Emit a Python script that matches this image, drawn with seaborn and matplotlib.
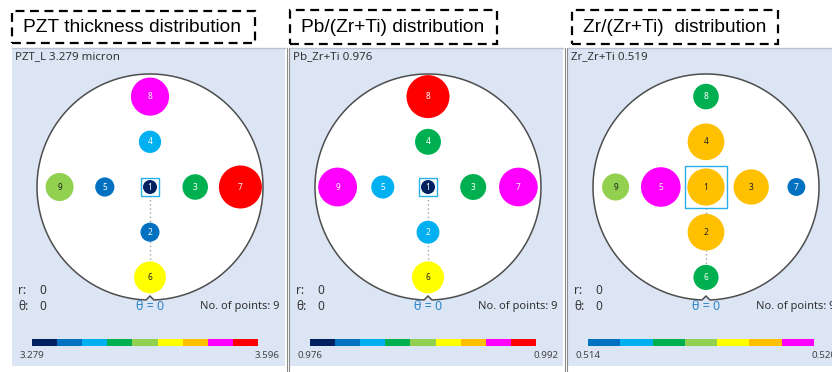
import numpy as np
import pandas as pd
import matplotlib
matplotlib.use('Agg')
import matplotlib.pyplot as plt
import matplotlib as mpl
import seaborn as sns
from matplotlib.colors import ListedColormap, Normalize
from matplotlib.patches import Rectangle, Polygon
from matplotlib.lines import Line2D

sns.set_theme(style='white')
plt.rcParams['font.family'] = ['Noto Sans', 'DejaVu Sans']

# measurement sites, mm from wafer centre (theta = 0 at the notch)
site_no = [1, 2, 3, 4, 5, 6, 7, 8, 9]
site_x = [0, 0, 40, 0, -40, 0, 80, 0, -80]
site_y = [0, -40, 0, 40, 0, -80, 0, 80, 0]

# measured values per site
thickness = [3.279, 3.334, 3.405, 3.370, 3.336, 3.474, 3.596, 3.543, 3.432]
pb_ratio = [0.976, 0.9809, 0.9826, 0.9826, 0.9810, 0.9859, 0.9896, 0.9920, 0.9897]
zr_ratio = [0.5188, 0.5187, 0.5184, 0.5187, 0.5193, 0.5163, 0.5148, 0.5164, 0.5167]

titles = ['PZT thickness distribution', 'Pb/(Zr+Ti) distribution', 'Zr/(Zr+Ti)  distribution']
headers = ['PZT_L {:.3f} micron', 'Pb_Zr+Ti {:.3f}', 'Zr_Zr+Ti {:.3f}']
scale_lo = [3.279, 0.976, 0.514]
scale_hi = [3.596, 0.992, 0.520]

scale_colors = ['#002060', '#0070c0', '#00b0f0', '#00b050', '#92d050',
                '#ffff00', '#ffc000', '#ff00ff', '#ff0000']
cmaps = [ListedColormap(scale_colors), ListedColormap(scale_colors),
         ListedColormap(scale_colors[1:8])]
dark_text = {'#92d050', '#ffff00', '#ffc000'}

FW, FH = 832, 372
fig = plt.figure(figsize=(FW / 100, FH / 100), dpi=100)
fig.patch.set_facecolor('white')


def px(x0, y0, x1, y1):
    return [x0 / FW, 1 - y1 / FH, (x1 - x0) / FW, (y1 - y0) / FH]


panel_left = [12, 290, 568]
title_boxes = [(12, 11, 255, 43), (290, 10, 497, 44), (572, 10, 778, 44)]
PW, PT, PB = 273, 48, 366
PH = PB - PT
MM = 1.13          # px per mm
CX, CY = 138, 139  # wafer centre inside a panel, px
R = 100            # wafer radius, mm

# wafer outline with notch
ang = np.radians(np.linspace(-88, 268, 400))
outline = np.column_stack([R * np.cos(ang), R * np.sin(ang)])
outline = np.vstack([outline, [[0, -R + 3.5]]])

for k, vals in enumerate([thickness, pb_ratio, zr_ratio]):
    L = panel_left[k]
    lo, hi = scale_lo[k], scale_hi[k]
    cmap = cmaps[k]
    norm = Normalize(lo, hi)

    ax = fig.add_axes(px(L, PT, L + PW, PB))
    ax.set_facecolor('#dce5f3')
    for s in ax.spines.values():
        s.set_visible(False)
    ax.spines['top'].set_visible(True)
    ax.spines['top'].set_color('#b9c3d3')
    ax.spines['top'].set_linewidth(1)

    ax.add_patch(Polygon(outline, closed=True, fc='white', ec='#4d4d4d', lw=1.1, zorder=1))
    ax.plot([0, 0], [0, site_y[5]], ls=(0, (1, 2)), color='#a0a0a0', lw=1, zorder=2)

    df = pd.DataFrame({'site': site_no, 'x': site_x, 'y': site_y, 'value': vals})
    t = ((df['value'] - lo) / (hi - lo)).clip(0, 1)
    df['diam'] = 14 + 29 * t
    df['area'] = (df['diam'] * 0.72) ** 2
    amin, amax = (14 * 0.72) ** 2, (43 * 0.72) ** 2
    sns.scatterplot(data=df, x='x', y='y', hue='value', palette=cmap, hue_norm=norm,
                    size='area', sizes=(amin, amax), size_norm=(amin, amax),
                    legend=False, linewidth=0, ax=ax, zorder=3)

    # selected site box
    d1 = df['diam'].iloc[0] + 4
    ax.scatter([site_x[0]], [site_y[0]], marker='s', s=(d1 * 0.72) ** 2,
               facecolor='none', edgecolor='#2ab0e8', lw=1, zorder=5)

    for _, row in df.iterrows():
        col = mpl.colors.to_hex(cmap(norm(row['value'])))
        ax.text(row['x'], row['y'], str(int(row['site'])), ha='center', va='center',
                fontsize=6, fontweight='bold',
                color='#222222' if col in dark_text else 'white', zorder=6)

    ax.set_xlim(-CX / MM, (PW - CX) / MM)
    ax.set_ylim(-(PH - CY) / MM, CY / MM)
    ax.set_xticks([])
    ax.set_yticks([])
    ax.set_xlabel('')
    ax.set_ylabel('')

    def ptext(rx, ry, s, **kw):
        ax.text(rx / PW, 1 - ry / PH, s, transform=ax.transAxes, va='center', **kw)

    ptext(3, 9, headers[k].format(vals[0]), fontsize=8.3, color='#333333')
    ptext(6, 243, 'r:', fontsize=8.5, color='#333333')
    ptext(27, 243, '0', fontsize=8.5, color='#333333')
    ptext(6, 259, 'θ:', fontsize=8.5, color='#333333')
    ptext(27, 259, '0', fontsize=8.5, color='#333333')
    ptext(CX, 259, 'θ = 0', fontsize=9, color='#2e86c8', ha='center')
    ptext(268, 259, 'No. of points: 9', fontsize=8, color='#333333', ha='right')
    ptext(8, 308, f'{lo:.3f}', fontsize=7, color='#444444')
    ptext(268, 308, f'{hi:.3f}', fontsize=7, color='#444444', ha='right')

    cax = fig.add_axes(px(L + 20, 339, L + 246, 346))
    cb = mpl.colorbar.ColorbarBase(cax, cmap=cmap, norm=norm, orientation='horizontal')
    cb.set_ticks([])
    cb.outline.set_visible(False)

    # dashed title box
    x0, y0, x1, y1 = title_boxes[k]
    fig.add_artist(Rectangle((x0 / FW, 1 - y1 / FH), (x1 - x0) / FW, (y1 - y0) / FH,
                             transform=fig.transFigure, fill=False, ec='black',
                             lw=1.6, ls=(0, (4, 2.5))))
    fig.text((x0 + 11) / FW, 1 - ((y0 + y1) / 2) / FH, titles[k], fontsize=13.8,
             family='Liberation Sans', va='center', ha='left', color='black')

# panel separators
for xs in [286.5, 288.5, 564.5, 566.5]:
    fig.add_artist(Line2D([xs / FW, xs / FW], [0, 1 - PT / FH], transform=fig.transFigure,
                          color='#8c8c8c', lw=0.8))

fig.savefig('out.png', dpi=100, facecolor='white')
